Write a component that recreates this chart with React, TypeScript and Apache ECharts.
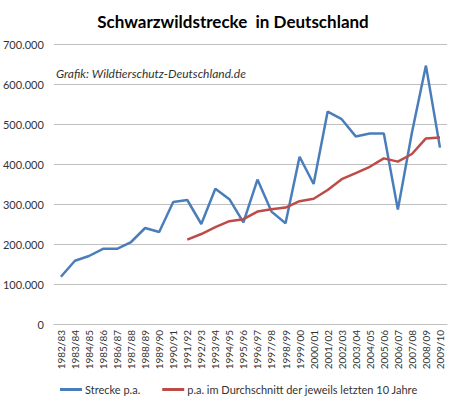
import React, { useRef, useEffect } from 'react';
import * as echarts from 'echarts';

const seasons = [
    '1982/83', '1983/84', '1984/85', '1985/86', '1986/87', '1987/88', '1988/89',
    '1989/90', '1990/91', '1991/92', '1992/93', '1993/94', '1994/95', '1995/96',
    '1996/97', '1997/98', '1998/99', '1999/00', '2000/01', '2001/02', '2002/03',
    '2003/04', '2004/05', '2005/06', '2006/07', '2007/08', '2008/09', '2009/10'
];

// Jahresstrecke
const strecke = [
    118000, 158000, 170000, 188000, 188000, 205000, 240000,
    230000, 305000, 310000, 250000, 338000, 312000, 254000,
    361000, 281000, 252000, 418000, 350000, 531000, 512000,
    469000, 476000, 476000, 286000, 478000, 646000, 441000
];

// gleitender 10-Jahres-Durchschnitt (ab 1991/92)
const durchschnitt = [
    null, null, null, null, null, null, null,
    null, null, 211000, 225000, 242000, 257000, 262000,
    281000, 287000, 291000, 307000, 313000, 335000, 362000,
    377000, 393000, 414000, 406000, 425000, 464000, 466000
];

const yTicks = [0, 100000, 200000, 300000, 400000, 500000, 600000, 700000];

const fmt = (v: number) => v === 0 ? '0' : v.toString().replace(/\B(?=(\d{3})+(?!\d))/g, '.');

const FONT = 'Lato, "Open Sans", sans-serif';

const App: React.FC = () => {
    const chartRef = useRef<HTMLDivElement>(null);

    useEffect(() => {
        if (!chartRef.current) return;
        const chart = echarts.init(chartRef.current, null, { renderer: 'svg' });

        const option: echarts.EChartsOption = {
            animation: false,
            backgroundColor: '#ffffff',
            textStyle: { fontFamily: FONT },
            title: {
                text: 'Schwarzwildstrecke  in Deutschland',
                left: 228,
                textAlign: 'center',
                top: 8,
                textStyle: { fontFamily: FONT, fontSize: 17, fontWeight: 'bold', color: '#000' }
            },
            graphic: [
                {
                    type: 'text',
                    left: 56,
                    top: 67,
                    style: {
                        text: 'Grafik: Wildtierschutz-Deutschland.de',
                        fontFamily: FONT,
                        fontStyle: 'italic',
                        fontSize: 12,
                        fill: '#333'
                    }
                }
            ],
            grid: { left: 52, right: 9, top: 44, bottom: 76 },
            legend: {
                left: 55,
                top: 379,
                itemWidth: 22,
                itemHeight: 3,
                itemGap: 22,
                icon: 'rect',
                textStyle: { fontFamily: FONT, fontSize: 11, color: '#333', padding: [0, 0, 0, -2] },
                data: ['Strecke p.a.', 'p.a. im Durchschnitt der jeweils letzten 10 Jahre']
            },
            xAxis: {
                type: 'category',
                data: seasons,
                boundaryGap: true,
                axisLine: { lineStyle: { color: '#bfbfbf', width: 1 } },
                axisTick: { show: false },
                axisLabel: { rotate: 90, interval: 0, fontSize: 10, color: '#333', margin: 6, fontFamily: FONT }
            },
            yAxis: {
                type: 'value',
                min: 0,
                max: 700000,
                interval: 100000,
                axisLine: { show: false },
                axisTick: { show: false },
                splitLine: { lineStyle: { color: '#bfbfbf', width: 1 } },
                axisLabel: {
                    fontSize: 11,
                    color: '#333',
                    margin: 10,
                    fontFamily: FONT,
                    formatter: (v: number) => yTicks.includes(v) ? fmt(v) : ''
                }
            },
            series: [
                {
                    name: 'Strecke p.a.',
                    type: 'line',
                    data: strecke,
                    showSymbol: false,
                    symbol: 'none',
                    lineStyle: { color: '#4a7ebb', width: 2.5 },
                    itemStyle: { color: '#4a7ebb' }
                },
                {
                    name: 'p.a. im Durchschnitt der jeweils letzten 10 Jahre',
                    type: 'line',
                    data: durchschnitt,
                    showSymbol: false,
                    symbol: 'none',
                    lineStyle: { color: '#be4b48', width: 2.5 },
                    itemStyle: { color: '#be4b48' }
                }
            ]
        };

        chart.setOption(option);
        return () => {
            chart.dispose();
        };
    }, []);

    return (
        <div style={{ position: 'fixed', left: 0, top: 0, width: 456, height: 400, background: '#fff' }}>
            <div ref={chartRef} style={{ width: 456, height: 400 }} />
        </div>
    );
};

export default App;
